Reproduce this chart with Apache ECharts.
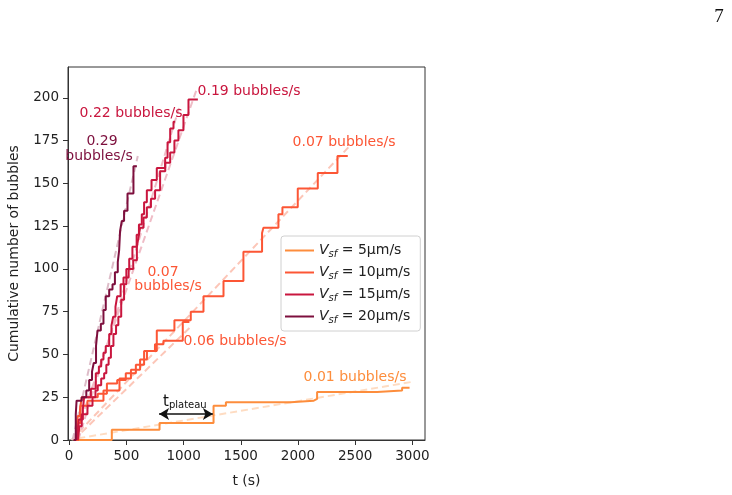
<!DOCTYPE html>
<html lang="en">
<head>
    <meta charset="UTF-8">
    <title>Cumulative bubbles</title>
    <script src="https://cdn.jsdelivr.net/npm/echarts@6/dist/echarts.min.js"></script>
    <style>
        body { margin: 0; background: #fff; }
        #chart { width: 732px; height: 495px; }
    </style>
</head>
<body>
<div id="chart"></div>
<script type="text/javascript">
    // step data: [t (s), cumulative count], the count jumps at t
    var run5 = [[80,0],[373,6],[790,10],[1262,20],[1370,22],[1935,23],[2138,24],[2167,28],[2692,29],[2910,30.5],[2975,30.5]]
    var run10a = [[40,0],[60,6],[75,14],[95,18],[110,25],[250,27],[330,33],[420,35],[495,39],[583,44],[655,52],[766,64],[920,70],[1063,75],[1174,84],[1349,93],[1523,110],[1686,121],[1698,124],[1829,132],[1864,136],[1998,147],[2173,156],[2345,166],[2435,166]]
    var run10b = [[55,0],[80,10],[100,20],[160,23],[300,29],[440,36],[540,41],[620,47],[680,52],[750,56],[824,58],[993,69],[1051,69]]
    var run15a = [[75,0],[90,8],[110,15],[160,20],[204,25],[230,29],[250,32],[280,36],[306,39],[325,44],[345,48],[365,55],[387,62],[410,67],[430,72],[455,82],[480,91],[500,95],[520,100],[560,105],[592,113],[605,118],[620,124],[650,130],[679,136],[715,141],[751,146],[795,157],[840,162],[883,168],[920,175],[955,181],[999,190],[1043,199],[1125,199]]
    var run15b = [[65,0],[70,4],[85,12],[120,18],[131,25],[190,30],[233,39],[260,43],[280,47],[300,51],[320,55],[350,62],[370,67],[385,72],[405,78],[420,84],[450,91],[475,95],[500,100],[525,106],[553,113],[590,120],[610,126],[635,132],[655,139],[679,146],[720,152],[766,159],[839,165],[860,174],[883,182],[912,186],[926,186]]
    var run20 = [[40,0],[58,15],[65,23],[110,25],[150,29],[175,35],[200,40],[215,45],[235,55],[248,64],[277,68],[300,76],[320,84],[350,88],[379,91],[400,98],[425,104],[437,111],[445,122],[460,128],[480,134],[510,144],[562,160],[592,160]]

    // linear fits (dashed), two end points each
    var fit5 = [[80,1],[3000,34]]
    var fit10a = [[20,0],[2440,171]]
    var fit10b = [[40,0],[1060,66]]
    var fit15a = [[40,0],[1120,206]]
    var fit15b = [[80,0],[960,194]]
    var fit20 = [[30,0],[600,166]]

    var xTicks = [0,500,1000,1500,2000,2500,3000]
    var yTicks = [0,25,50,75,100,125,150,175,200]

    var names = ['5µm/s', '10µm/s', '15µm/s', '20µm/s']
    var colors = ['#fd8d3c', '#fc5635', '#c9163e', '#7d0f3d']
    var fitColors = ['#fedcc2', '#fcc6b8', '#efbcc6', '#ddbcc8']

    var chart = echarts.init(document.getElementById('chart'))

    function stepSeries(name, color, data) {
        return {
            name: name,
            type: 'line',
            step: 'end',
            data: data,
            symbol: 'none',
            lineStyle: {color: color, width: 2},
            itemStyle: {color: color},
            z: 3
        }
    }

    function fitSeries(color, data) {
        return {
            name: 'fit',
            type: 'line',
            data: data,
            symbol: 'none',
            silent: true,
            lineStyle: {color: color, width: 2, type: [7, 4]},
            z: 2
        }
    }

    var font = 'DejaVu Sans'

    function label(text, x, y, color) {
        return {
            type: 'text', x: x, y: y, z: 10,
            style: {text: text, fill: color, font: '14px "DejaVu Sans"', align: 'center', verticalAlign: 'middle'}
        }
    }

    var option = {
        animation: false,
        grid: {left: 68, top: 67, right: 307, bottom: 55, show: true, borderColor: '#333', borderWidth: 1, backgroundColor: 'transparent'},
        xAxis: {
            type: 'value',
            min: -10,
            max: 3110,
            name: 't (s)',
            nameLocation: 'middle',
            nameGap: 34,
            nameTextStyle: {color: '#222', fontSize: 14, fontFamily: font},
            splitLine: {show: false},
            axisLine: {show: true, onZero: false, lineStyle: {color: '#333', width: 1}},
            axisTick: {show: true, length: 5, customValues: xTicks, lineStyle: {color: '#333'}},
            axisLabel: {customValues: xTicks, color: '#222', fontSize: 13.5, fontFamily: font, margin: 9,
                formatter: function (v) { return String(v) }}
        },
        yAxis: {
            type: 'value',
            min: 0,
            max: 218,
            name: 'Cumulative number of bubbles',
            nameLocation: 'middle',
            nameGap: 47,
            nameTextStyle: {color: '#222', fontSize: 14, fontFamily: font},
            splitLine: {show: false},
            axisLine: {show: true, onZero: false, lineStyle: {color: '#333', width: 1}},
            axisTick: {show: true, length: 5, customValues: yTicks, lineStyle: {color: '#333'}},
            axisLabel: {customValues: yTicks, color: '#222', fontSize: 13.5, fontFamily: font, margin: 9,
                formatter: function (v) { return String(v) }}
        },
        legend: {
            data: names.map(function (n) { return {name: n, icon: 'rect'} }),
            orient: 'vertical',
            left: 281,
            top: 236,
            itemWidth: 29,
            itemHeight: 2,
            itemGap: 5,
            padding: [6, 10, 6, 4],
            borderColor: '#d0d0d0',
            borderWidth: 1,
            borderRadius: 3,
            backgroundColor: 'rgba(255,255,255,0.85)',
            formatter: function (name) {
                return '{v|V}{s|sf}{n| = ' + name + '}'
            },
            textStyle: {
                color: '#222',
                fontFamily: font,
                rich: {
                    v: {fontSize: 14, fontStyle: 'italic', fontFamily: font, lineHeight: 16, color: '#222'},
                    s: {fontSize: 10, fontStyle: 'italic', fontFamily: font, lineHeight: 16, padding: [7, 0, 0, 0], color: '#222'},
                    n: {fontSize: 14, fontFamily: font, lineHeight: 16, color: '#222'}
                }
            }
        },
        graphic: [
            label('0.19 bubbles/s', 249, 91, '#c9163e'),
            label('0.22 bubbles/s', 131, 113, '#c9163e'),
            label('0.29', 102, 141, '#7d0f3d'),
            label('bubbles/s', 99, 156, '#7d0f3d'),
            label('0.07 bubbles/s', 344, 142, '#fc5635'),
            label('0.07', 163, 272, '#fc5635'),
            label('bubbles/s', 168, 286, '#fc5635'),
            label('0.06 bubbles/s', 235, 341, '#fc5635'),
            label('0.01 bubbles/s', 355, 377, '#fd8d3c'),
            {
                type: 'text', x: 163, y: 402, z: 10,
                style: {
                    text: '{t|t}{p|plateau}', fill: '#111', align: 'left', verticalAlign: 'middle',
                    rich: {
                        t: {fontSize: 15, fontFamily: font, fill: '#111', lineHeight: 18},
                        p: {fontSize: 10, fontFamily: font, fill: '#111', lineHeight: 18, padding: [7, 0, 0, 0]}
                    }
                }
            },
            {
                type: 'text', x: 719, y: 17, z: 10,
                style: {text: '7', fill: '#111', font: '19px "Liberation Serif"', align: 'center', verticalAlign: 'middle'}
            }
        ],
        series: [
            fitSeries(fitColors[0], fit5),
            fitSeries(fitColors[1], fit10a),
            fitSeries(fitColors[1], fit10b),
            fitSeries(fitColors[2], fit15a),
            fitSeries(fitColors[2], fit15b),
            fitSeries(fitColors[3], fit20),
            Object.assign(stepSeries(names[0], colors[0], run5), {
                markLine: {
                    silent: true,
                    symbol: ['arrow', 'arrow'],
                    symbolSize: [9, 10],
                    label: {show: false},
                    lineStyle: {color: '#111', width: 1.5, type: 'solid'},
                    data: [[{coord: [786, 15.2]}, {coord: [1256, 15.2]}]]
                }
            }),
            stepSeries(names[1], colors[1], run10a),
            stepSeries(names[1], colors[1], run10b),
            stepSeries(names[2], colors[2], run15a),
            stepSeries(names[2], colors[2], run15b),
            stepSeries(names[3], colors[3], run20)
        ]
    }

    chart.setOption(option)
</script>
</body>
</html>
